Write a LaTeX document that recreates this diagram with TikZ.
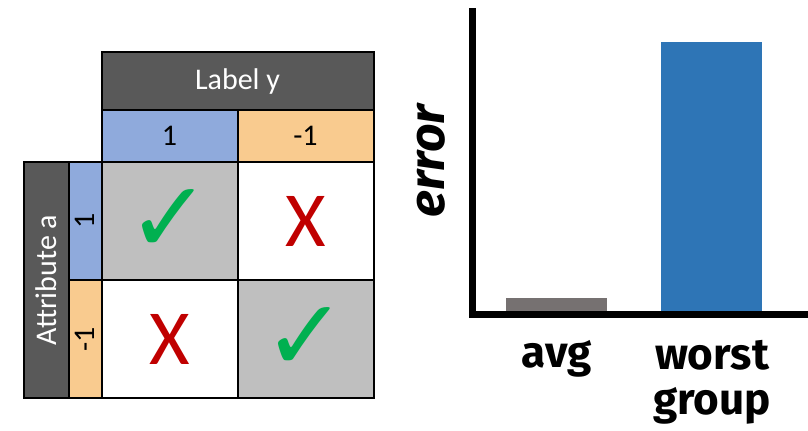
\documentclass[tikz,border=0pt]{standalone}
\usepackage{fontspec}
\setmainfont{Carlito}
\newfontfamily\symfont{DejaVu Sans}
\newfontfamily\handfont{Fira Sans}
\usepackage{tikz}
\usetikzlibrary{positioning}

\definecolor{darkhead}{HTML}{595959}
\definecolor{blueband}{HTML}{8FAADC}
\definecolor{orangeband}{HTML}{F9CB8F}
\definecolor{cellgray}{HTML}{BFBFBF}
\definecolor{checkgreen}{HTML}{00B050}
\definecolor{crossred}{HTML}{C00000}
\definecolor{avgbar}{HTML}{767171}
\definecolor{worstbar}{HTML}{2E75B6}

\tikzset{
  box/.style={draw=black, line width=1pt, inner sep=0pt, outer sep=0pt},
  cell/.style={box, minimum width=68pt, minimum height=59pt},
  subhead/.style={box, minimum width=68pt, minimum height=26pt, font=\fontsize{15}{18}\selectfont},
  subside/.style={box, minimum width=16.5pt, minimum height=59pt, font=\fontsize{15}{18}\selectfont},
  okmark/.style={text=checkgreen, font=\symfont\fontsize{50}{50}\selectfont},
  badmark/.style={text=crossred, font=\fontsize{39}{40}\selectfont},
  hand/.style={font=\handfont\bfseries\fontsize{22}{22.5}\selectfont}
}

\begin{document}
\begin{tikzpicture}[x=0.5pt,y=-0.5pt]
  \useasboundingbox (0,0) rectangle (808,430);
  % 2x2 grid of label / attribute combinations
  \node[cell, fill=cellgray] (c11) at (169.5,221) {};
  \node[cell] (c12) [right=0pt of c11] {};
  \node[cell] (c21) [below=0pt of c11] {};
  \node[cell, fill=cellgray] (c22) [right=0pt of c21] {};
  \node[okmark] at (c11) {✓};
  \node[badmark] at (c12) {X};
  \node[badmark] at (c21) {X};
  \node[okmark] at (c22) {✓};
  % column headers
  \node[subhead, fill=blueband] (y1) [above=0pt of c11] {1};
  \node[subhead, fill=orangeband] (y2) [above=0pt of c12] {-1};
  \node[box, fill=darkhead, text=white, minimum width=136pt, minimum height=29pt,
        font=\fontsize{15}{18}\selectfont] (ylab) [above=0pt of y1.north east] {Label y};
  % row headers
  \node[subside, fill=blueband] (a1) [left=0pt of c11] {\rotatebox{90}{1}};
  \node[subside, fill=orangeband] (a2) [left=0pt of c21] {\rotatebox{90}{-1}};
  \node[box, fill=darkhead, text=white, minimum width=22.5pt, minimum height=118pt,
        font=\fontsize{15}{18}\selectfont] (alab) [left=0pt of a1.south west] {\rotatebox{90}{Attribute a}};

  % bar chart
  \fill[avgbar] (506,298) rectangle (607,312);
  \fill[worstbar] (661,42) rectangle (762,312);
  \draw[line width=3.5pt, line join=miter] (472,8) |- (808,314);
  \node[hand, font=\handfont\bfseries\itshape\fontsize{25}{25}\selectfont, rotate=90] (err) at (431,161) {error};
  \node[hand, anchor=base] (avg) at (557,367) {avg};
  \node[hand, align=center, anchor=north] (worst) at (712,333) {worst\\group};
\end{tikzpicture}
\end{document}
